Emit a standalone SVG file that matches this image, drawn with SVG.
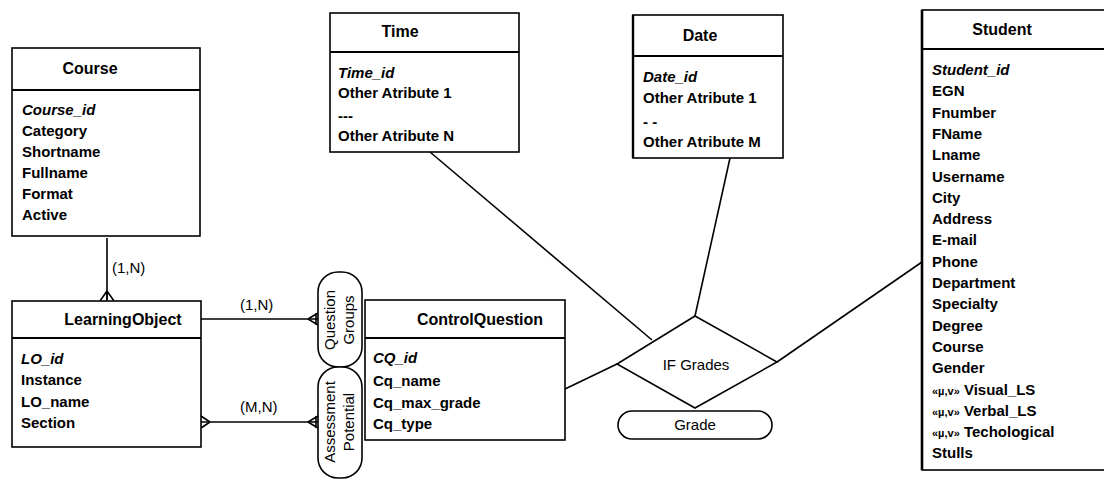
<svg xmlns="http://www.w3.org/2000/svg" width="1104" height="479" viewBox="0 0 1104 479">
<style>
.box{fill:#fff;stroke:#000;stroke-width:1.6}
.sep{stroke:#000;stroke-width:2.2}
.t{font-family:"Liberation Sans",Arial,sans-serif;font-size:15px;font-weight:bold;fill:#000}
.ti{font-family:"Liberation Sans",Arial,sans-serif;font-size:16px;font-weight:bold;fill:#000;text-anchor:middle}
.it{font-style:italic}
.r{font-family:"Liberation Sans",Arial,sans-serif;font-size:15px;fill:#000}
.ln{stroke:#000;stroke-width:1.6;fill:none}
.cf{stroke:#000;stroke-width:1.6;fill:none}
</style>
<rect width="1104" height="479" fill="#fff"/>
<g id="connectors">
  <line class="ln" x1="107" y1="238" x2="107" y2="300" stroke-width="2.4"/>
  <path class="cf" d="M107,291 L100,301 M107,291 L107,301 M107,291 L114,301"/>
  <line class="ln" x1="201" y1="319" x2="318" y2="319"/>
  <path class="cf" d="M308,319 L318,313 M308,319 L318,325 M316,313 L316,325"/>
  <line class="ln" x1="201" y1="422" x2="318" y2="422"/>
  <path class="cf" d="M210,422 L201,416 M210,422 L201,428"/>
  <path class="cf" d="M308,422 L318,416 M308,422 L318,428 M316,416 L316,428"/>
  <line class="ln" x1="430" y1="152" x2="652" y2="340"/>
  <line class="ln" x1="730" y1="158" x2="695" y2="316"/>
  <line class="ln" x1="922" y1="262" x2="777" y2="362"/>
  <line class="ln" x1="565" y1="389" x2="617" y2="364"/>
  <text class="r" x="112" y="273">(1,N)</text>
  <text class="r" x="240" y="310">(1,N)</text>
  <text class="r" x="240" y="412">(M,N)</text>
</g>
<g id="course">
  <rect class="box" x="12" y="48" width="188" height="188"/>
  <line class="sep" x1="12" y1="90" x2="200" y2="90"/>
  <text class="ti" x="90" y="74">Course</text>
  <text class="t it" x="22" y="115">Course_id</text>
  <text class="t" x="22" y="136">Category</text>
  <text class="t" x="22" y="157">Shortname</text>
  <text class="t" x="22" y="178">Fullname</text>
  <text class="t" x="22" y="199">Format</text>
  <text class="t" x="22" y="220">Active</text>
</g>
<g id="learningobject">
  <rect class="box" x="12" y="301" width="189" height="146"/>
  <line class="sep" x1="12" y1="338" x2="201" y2="338"/>
  <text class="ti" x="123" y="325">LearningObject</text>
  <text class="t it" x="21" y="364">LO_id</text>
  <text class="t" x="21" y="385">Instance</text>
  <text class="t" x="21" y="407">LO_name</text>
  <text class="t" x="21" y="428">Section</text>
</g>
<g id="questiongroups">
  <rect class="box" x="318" y="272" width="44" height="95" rx="20" ry="20"/>
  <g transform="translate(340,320) rotate(-90)">
    <text class="r" x="0" y="-5" text-anchor="middle">Question</text>
    <text class="r" x="0" y="14" text-anchor="middle">Groups</text>
  </g>
</g>
<g id="assessmentpotential">
  <rect class="box" x="318" y="367" width="44" height="111" rx="20" ry="20"/>
  <g transform="translate(340,422) rotate(-90)">
    <text class="r" x="0" y="-5" text-anchor="middle">Assessment</text>
    <text class="r" x="0" y="14" text-anchor="middle">Potential</text>
  </g>
</g>
<g id="controlquestion">
  <rect class="box" x="365" y="300" width="200" height="140"/>
  <line class="sep" x1="365" y1="338" x2="565" y2="338"/>
  <text class="ti" x="480" y="325">ControlQuestion</text>
  <text class="t it" x="373" y="363">CQ_id</text>
  <text class="t" x="373" y="386">Cq_name</text>
  <text class="t" x="373" y="408">Cq_max_grade</text>
  <text class="t" x="373" y="429">Cq_type</text>
</g>
<g id="time">
  <rect class="box" x="330" y="13" width="189" height="139"/>
  <line class="sep" x1="330" y1="52" x2="519" y2="52" stroke-width="1.6"/>
  <text class="ti" x="400" y="37">Time</text>
  <text class="t it" x="338" y="78">Time_id</text>
  <text class="t" x="338" y="98">Other Atribute 1</text>
  <text class="t" x="338" y="121">---</text>
  <text class="t" x="338" y="141">Other Atribute N</text>
</g>
<g id="date">
  <rect class="box" x="633" y="15" width="150" height="143"/>
  <line class="sep" x1="633" y1="56" x2="783" y2="56"/>
  <line x1="633" y1="15" x2="633" y2="158" stroke="#000" stroke-width="2.4"/>
  <text class="ti" x="700" y="41">Date</text>
  <text class="t it" x="643" y="82">Date_id</text>
  <text class="t" x="643" y="103">Other Atribute 1</text>
  <text class="t" x="643" y="127">- -</text>
  <text class="t" x="643" y="147">Other Atribute M</text>
</g>
<g id="ifgrades">
  <polygon class="box" points="695,316 777,362 695,408 617,364"/>
  <text class="r" x="696" y="370" text-anchor="middle" font-size="16">IF Grades</text>
</g>
<g id="grade">
  <rect class="box" x="618" y="411" width="154" height="28" rx="14" ry="14"/>
  <text class="r" x="695" y="430" text-anchor="middle">Grade</text>
</g>
<g id="student">
  <rect class="box" x="922" y="10" width="190" height="460"/>
  <line x1="922" y1="10" x2="922" y2="470" stroke="#000" stroke-width="2.6"/>
  <line class="sep" x1="922" y1="49" x2="1112" y2="49"/>
  <text class="ti" x="1002" y="35">Student</text>
  <text class="t it" x="932" y="75">Student_id</text>
  <text class="t" x="932" y="96">EGN</text>
  <text class="t" x="932" y="118">Fnumber</text>
  <text class="t" x="932" y="139">FName</text>
  <text class="t" x="932" y="160">Lname</text>
  <text class="t" x="932" y="182">Username</text>
  <text class="t" x="932" y="203">City</text>
  <text class="t" x="932" y="224">Address</text>
  <text class="t" x="932" y="245">E-mail</text>
  <text class="t" x="932" y="267">Phone</text>
  <text class="t" x="932" y="288">Department</text>
  <text class="t" x="932" y="309">Specialty</text>
  <text class="t" x="932" y="331">Degree</text>
  <text class="t" x="932" y="352">Course</text>
  <text class="t" x="932" y="373">Gender</text>
  <text class="t" x="932" y="395"><tspan font-size="11">«µ,v»</tspan> Visual_LS</text>
  <text class="t" x="932" y="416"><tspan font-size="11">«µ,v»</tspan> Verbal_LS</text>
  <text class="t" x="932" y="437"><tspan font-size="11">«µ,v»</tspan> Techological</text>
  <text class="t" x="932" y="458">Stulls</text>
</g>
</svg>
